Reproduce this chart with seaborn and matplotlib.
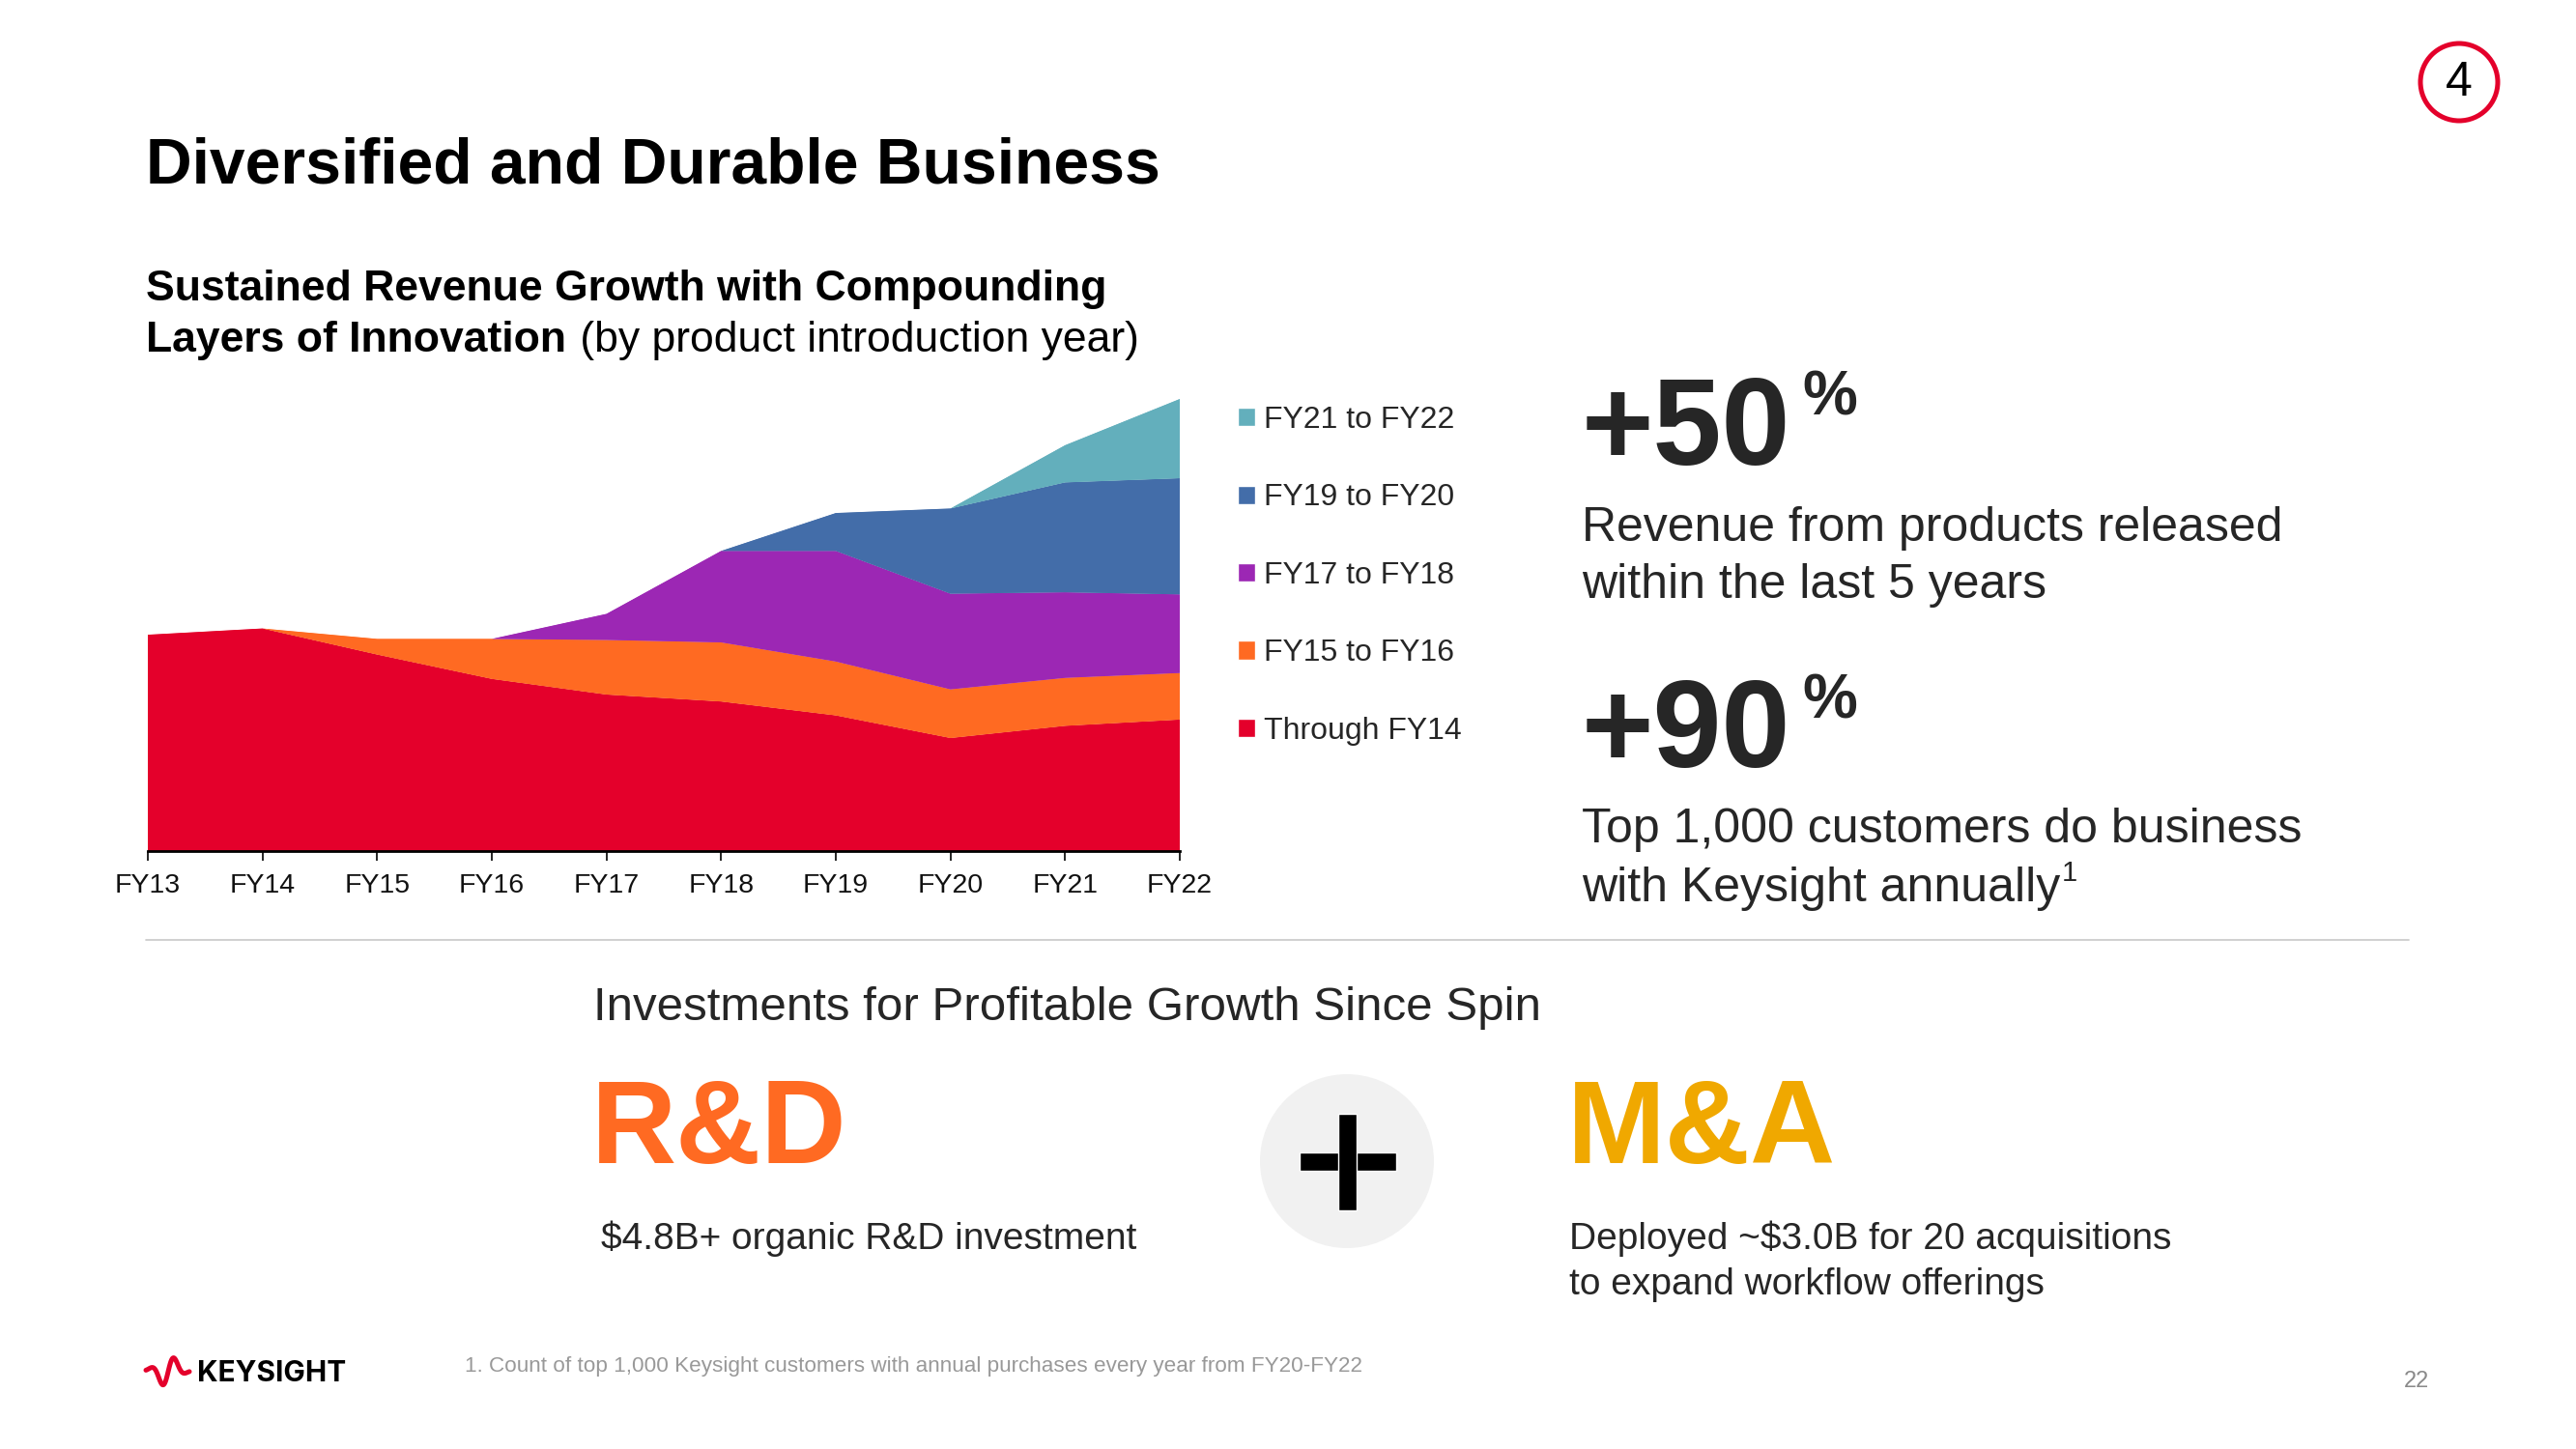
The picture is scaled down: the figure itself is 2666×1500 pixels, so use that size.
import matplotlib
matplotlib.use('Agg')
import matplotlib.pyplot as plt
import matplotlib.patches as patches
import numpy as np
import pandas as pd
import seaborn as sns
import seaborn.objects as so

# revenue layers by product introduction year (relative units)
years = ['FY13', 'FY14', 'FY15', 'FY16', 'FY17', 'FY18', 'FY19', 'FY20', 'FY21', 'FY22']
through_fy14 = [622, 640, 565, 495, 450, 430, 390, 325, 360, 378]
fy15_to_fy16 = [0, 0, 45, 115, 157, 170, 155, 140, 138, 134]
fy17_to_fy18 = [0, 0, 0, 0, 75, 263, 318, 275, 246, 226]
fy19_to_fy20 = [0, 0, 0, 0, 0, 0, 109, 245, 316, 334]
fy21_to_fy22 = [0, 0, 0, 0, 0, 0, 0, 0, 107, 228]

layers = ['Through FY14', 'FY15 to FY16', 'FY17 to FY18', 'FY19 to FY20', 'FY21 to FY22']
layer_colors = ['#E4002B', '#FF6A22', '#9C27B4', '#436DA9', '#63AFBC']

W, H = 2666, 1500

sns.set_theme(style='white')
plt.rcParams['font.family'] = ['Liberation Sans', 'DejaVu Sans']

fig = plt.figure(figsize=(W / 100, H / 100), dpi=100)
fig.patch.set_facecolor('white')

# chart axes, placed in pixel terms
ax_left, ax_right, ax_top, ax_bottom = 153, 1221, 413, 881
ax = fig.add_axes([ax_left / W, 1 - ax_bottom / H,
                   (ax_right - ax_left) / W, (ax_bottom - ax_top) / H])

df = pd.DataFrame({
    'x': np.tile(np.arange(len(years)), len(layers)),
    'value': np.concatenate([through_fy14, fy15_to_fy16, fy17_to_fy18,
                             fy19_to_fy20, fy21_to_fy22]),
    'layer': np.repeat(layers, len(years)),
})

(
    so.Plot(df, x='x', y='value', color='layer')
    .add(so.Area(alpha=1, edgewidth=0.6, edgealpha=1), so.Stack(), legend=False)
    .scale(color=dict(zip(layers, layer_colors)))
    .on(ax)
    .plot()
)

ax.set_xlim(0, len(years) - 1)
ax.set_ylim(0, 1300)
ax.set_xticks(range(len(years)))
ax.set_xticklabels(years)
ax.set_yticks([])
ax.set_xlabel('')
ax.set_ylabel('')
ax.set_facecolor('none')
ax.grid(False)
for s in ['left', 'top', 'right']:
    ax.spines[s].set_visible(False)
ax.spines['bottom'].set_color('black')
ax.spines['bottom'].set_linewidth(2)
ax.spines['bottom'].set_zorder(5)
ax.tick_params(axis='x', bottom=True, length=7, width=1.2, color='black',
               labelsize=20.5, labelcolor='#111111', pad=9.5, direction='out')

# legend to the right of the chart, newest layer on top
handles = [patches.Patch(facecolor=c, label=l)
           for l, c in zip(layers[::-1], layer_colors[::-1])]
fig.legend(handles=handles, loc='upper left',
           bbox_to_anchor=(1281 / W, 1 - 420 / H), frameon=False,
           fontsize=23, handlelength=0.55, handleheight=0.55,
           handletextpad=0.3, labelspacing=1.58, borderpad=0, borderaxespad=0)

# overlay in pixel coordinates for the slide text
ov = fig.add_axes([0, 0, 1, 1])
ov.set_xlim(0, W)
ov.set_ylim(H, 0)
ov.axis('off')
ov.patch.set_alpha(0)
renderer = fig.canvas.get_renderer()


def right_edge(t):
    return t.get_window_extent(renderer).x1


ov.text(151, 189, 'Diversified and Durable Business', fontsize=47.5,
        fontweight='bold', color='black', va='baseline')

ov.text(151, 311, 'Sustained Revenue Growth with Compounding', fontsize=32,
        fontweight='bold', color='black', va='baseline')
t = ov.text(151, 364, 'Layers of Innovation', fontsize=32,
            fontweight='bold', color='black', va='baseline')
ov.text(right_edge(t) + 2, 364, ' (by product introduction year)', fontsize=32,
        color='black', va='baseline')

# right column figures
t = ov.text(1637, 481, '+50', fontsize=92, fontweight='bold', va='baseline')
ov.text(right_edge(t) + 12, 383, '%', fontsize=46, fontweight='bold', va='top')
ov.text(1637, 560, 'Revenue from products released', fontsize=36, va='baseline')
ov.text(1637, 619, 'within the last 5 years', fontsize=36, va='baseline')

t = ov.text(1637, 794, '+90', fontsize=92, fontweight='bold', va='baseline')
ov.text(right_edge(t) + 12, 696, '%', fontsize=46, fontweight='bold', va='top')
ov.text(1637, 872, 'Top 1,000 customers do business', fontsize=36, va='baseline')
t = ov.text(1637, 933, 'with Keysight annually', fontsize=36, va='baseline')
ov.text(right_edge(t) + 2, 912, '1', fontsize=21, va='baseline')

ov.plot([151, 2493], [973, 973], color='#c8c8c8', lw=1.2)

# investments section
ov.text(614, 1056, 'Investments for Profitable Growth Since Spin', fontsize=35.5,
        va='baseline')
ov.text(612, 1204, 'R&D', fontsize=88, fontweight='bold', color='#FF6A22',
        va='baseline')
ov.text(622, 1293, '$4.8B+ organic R&D investment', fontsize=28, va='baseline')

ov.add_patch(patches.Circle((1394, 1202), 90, facecolor='#f1f1f1',
                            edgecolor='none'))
ov.add_patch(patches.Rectangle((1345, 1193), 100, 19, facecolor='black'))
ov.add_patch(patches.Rectangle((1385, 1153), 19, 100, facecolor='black'))

ov.text(1622, 1204, 'M&A', fontsize=88, fontweight='bold', color='#F0A800',
        va='baseline')
ov.text(1624, 1293, 'Deployed ~$3.0B for 20 acquisitions', fontsize=28,
        va='baseline')
ov.text(1624, 1340, 'to expand workflow offerings', fontsize=28, va='baseline')

# footer
ov.text(481, 1420, '1. Count of top 1,000 Keysight customers with annual purchases '
        'every year from FY20-FY22', fontsize=16.2, color='#999999', va='baseline')
ov.text(2501, 1430, '22', fontsize=17, color='#8a8a8a', ha='center', va='center')

# logo
tw = np.linspace(0, 1, 120)
env = np.exp(-((tw - 0.5) / 0.3) ** 2)
wave_y = 1419 - 17 * env * np.sin(2 * np.pi * 1.75 * tw + 0.6)
ov.plot(151 + 45 * tw, wave_y, color='#E4002B', lw=3.6, solid_capstyle='round')
ov.text(204, 1430, 'KEYSIGHT', fontsize=21.5, fontweight='bold',
        family=['Inter', 'Liberation Sans'], color='black', va='baseline')

# section badge
ov.add_patch(patches.Circle((2545, 85), 40, facecolor='white',
                            edgecolor='#E4002B', lw=3.6))
ov.text(2545, 86, '4', fontsize=36, ha='center', va='center', color='black')

fig.savefig('out.png', dpi=100, facecolor='white')
